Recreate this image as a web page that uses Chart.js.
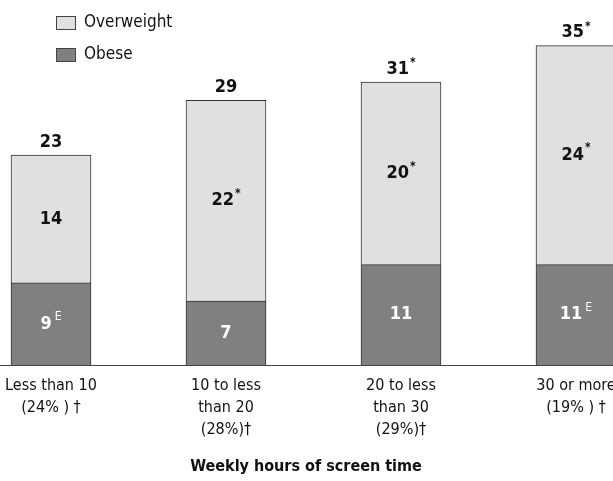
<!DOCTYPE html>
<html><head><meta charset="utf-8">
<script src="https://cdn.jsdelivr.net/npm/chart.js@4/dist/chart.umd.min.js"></script>
<style>html,body{margin:0;padding:0;background:#fff;overflow:hidden}#wrap{position:relative;width:613px;height:481px}</style>
</head><body><div id="wrap"><canvas id="c" width="613" height="481"></canvas></div>
<script>
const categories = [["Less than 10","(24% ) †"],["10 to less","than 20","(28%)†"],["20 to less","than 30","(29%)†"],["30 or more","(19% ) †"]];
const obese = [9, 7, 11, 11];
const overweight = [14, 22, 20, 24];
const totals = [23, 29, 31, 35];
const obeseNotes = ["E", "", "", "E"];
const overweightNotes = ["", "*", "*", "*"];
const totalNotes = ["", "", "*", "*"];
const seriesNames = ["Overweight", "Obese"];
const xTitle = "Weekly hours of screen time";

const fam = '"Liberation Sans Narrow","Arial Narrow","DejaVu Sans Condensed",sans-serif';
const colOver = '#e0e0e0', colObese = '#808080', colEdge = '#333333';

function drawSup(ctx, x, y, main, sup, color, size, supSize, gap, raise, supBold) {
  ctx.save();
  ctx.fillStyle = color;
  ctx.textBaseline = 'middle';
  ctx.textAlign = 'left';
  ctx.font = 'bold ' + size + 'px ' + fam;
  const mw = ctx.measureText(main).width;
  let sw = 0;
  if (sup) { ctx.font = (supBold ? 'bold ' : '') + supSize + 'px ' + fam; sw = ctx.measureText(sup).width + gap; }
  const start = x - (mw + sw) / 2;
  ctx.font = 'bold ' + size + 'px ' + fam;
  ctx.fillText(main, start, y);
  if (sup) {
    ctx.font = (supBold ? 'bold ' : '') + supSize + 'px ' + fam;
    ctx.fillText(sup, start + mw + gap, y - raise);
  }
  ctx.restore();
}

const labelsPlugin = {
  id: 'labels',
  afterDatasetsDraw(chart) {
    const ctx = chart.ctx;
    chart.data.datasets.forEach((ds, di) => {
      const meta = chart.getDatasetMeta(di);
      meta.data.forEach((bar, i) => {
        const cy = (bar.y + bar.base) / 2;
        const note = ds.notes[i];
        drawSup(ctx, bar.x, cy, String(ds.data[i].y), note, ds.textColor, 18, 12, note === 'E' ? 3 : 1, 7, note === '*');
        if (di === chart.data.datasets.length - 1) {
          drawSup(ctx, bar.x, bar.y - 13, String(totals[i]), totalNotes[i], '#111', 18, 12, 1, 6, true);
        }
      });
    });
  },
  afterDraw(chart) {
    const ctx = chart.ctx;
    ctx.save();
    const items = [[seriesNames[0], colOver, 23], [seriesNames[1], colObese, 55]];
    items.forEach(([name, col, y]) => {
      ctx.fillStyle = col;
      ctx.fillRect(56, y - 7, 20, 14);
      ctx.strokeStyle = '#444';
      ctx.lineWidth = 1;
      ctx.strokeRect(56.5, y - 6.5, 19, 13);
      ctx.fillStyle = '#111';
      ctx.font = '17px ' + fam;
      ctx.textBaseline = 'middle';
      ctx.textAlign = 'left';
      ctx.fillText(name, 84, y);
    });
    ctx.font = 'bold 16px ' + fam;
    ctx.textAlign = 'center';
    ctx.textBaseline = 'middle';
    ctx.fillText(xTitle, 306, 467);
    ctx.restore();
  }
};

const xmin = -51 / 175;
new Chart(document.getElementById('c'), {
  type: 'bar',
  data: {
    datasets: [
      { label: seriesNames[1], data: obese.map((v, i) => ({ x: i, y: v })), backgroundColor: colObese, borderColor: colEdge, borderWidth: 1, barThickness: 80, notes: obeseNotes, textColor: '#ffffff' },
      { label: seriesNames[0], data: overweight.map((v, i) => ({ x: i, y: v })), backgroundColor: colOver, borderColor: colEdge, borderWidth: 1, barThickness: 80, notes: overweightNotes, textColor: '#111111' }
    ]
  },
  options: {
    responsive: false, animation: false,
    layout: { padding: 0 },
    plugins: { legend: { display: false }, tooltip: { enabled: false } },
    scales: {
      x: {
        type: 'linear', stacked: true, min: xmin, max: xmin + 613 / 175, offset: false,
        grid: { display: false, drawTicks: false },
        border: { display: true, color: '#444', width: 1 },
        afterBuildTicks: s => { s.ticks = categories.map((c, i) => ({ value: i })); },
        ticks: { autoSkip: false, maxRotation: 0, padding: 10, color: '#111', font: { family: fam, size: 16, lineHeight: 1.38 }, callback: v => categories[v] },
        afterFit: s => { s.height = 116; s.paddingLeft = 0; s.paddingRight = 0; }
      },
      y: { display: false, stacked: true, min: 0, max: 40 }
    }
  },
  plugins: [labelsPlugin]
});
</script></body></html>
